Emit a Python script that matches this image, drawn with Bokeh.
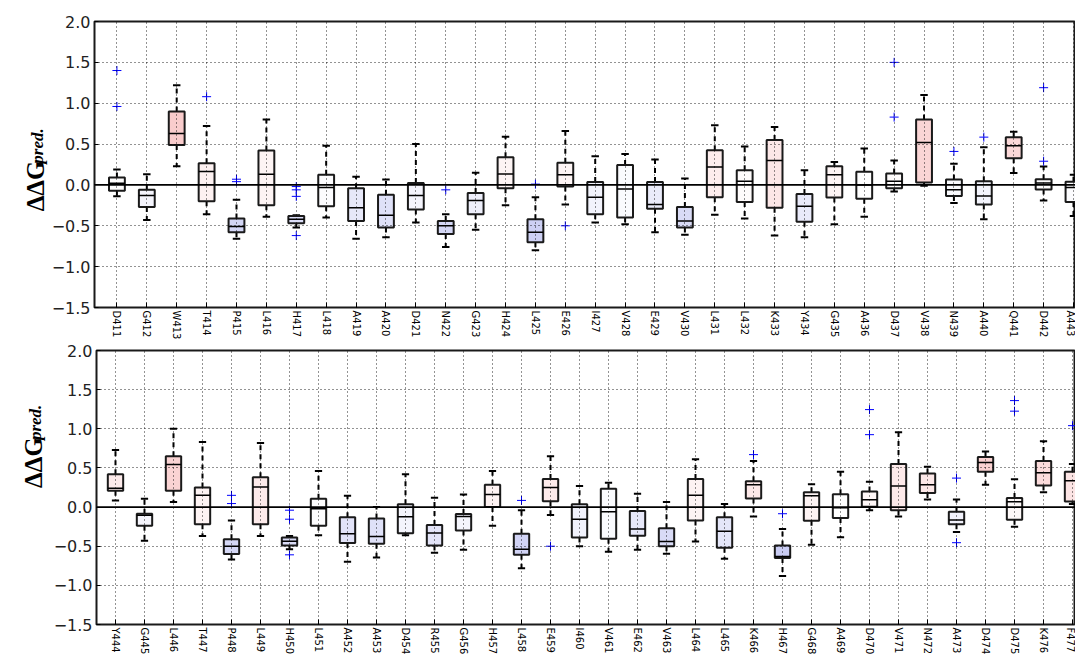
import math
from bokeh.plotting import figure
from bokeh.models import ColumnDataSource, FixedTicker, Span, Range1d
from bokeh.layouts import column, row
from bokeh.embed import file_html
from bokeh.resources import INLINE
from bokeh.core.properties import value

# ---------------- data: top panel ----------------
top_names = ["D411", "G412", "W413", "T414", "P415", "L416", "H417", "L418", "A419", "A420",
             "D421", "N422", "G423", "H424", "L425", "E426", "I427", "V428", "E429", "V430",
             "L431", "L432", "K433", "Y434", "G435", "A436", "D437", "V438", "N439", "A440",
             "Q441", "D442", "A443"]
top_lo = [-0.14, -0.43, 0.23, -0.36, -0.66, -0.39, -0.52, -0.40, -0.66, -0.64,
          -0.46, -0.76, -0.55, -0.25, -0.80, -0.24, -0.46, -0.48, -0.58, -0.61,
          -0.365, -0.41, -0.62, -0.64, -0.48, -0.39, -0.08, -0.01, -0.22, -0.42,
          0.145, -0.19, -0.38]
top_q1 = [-0.07, -0.27, 0.49, -0.20, -0.58, -0.25, -0.47, -0.26, -0.44, -0.52,
          -0.30, -0.60, -0.36, -0.04, -0.70, -0.02, -0.36, -0.40, -0.29, -0.52,
          -0.15, -0.21, -0.28, -0.45, -0.155, -0.17, -0.04, 0.03, -0.135, -0.24,
          0.325, -0.055, -0.21]
top_med = [0.02, -0.13, 0.63, 0.165, -0.51, 0.13, -0.42, -0.03, -0.28, -0.37,
           -0.13, -0.50, -0.19, 0.135, -0.58, 0.125, -0.15, -0.05, -0.24, -0.44,
           0.22, 0.045, 0.30, -0.26, 0.125, 0.0, 0.045, 0.52, -0.06, -0.135,
           0.48, 0.025, -0.03]
top_q3 = [0.09, -0.06, 0.90, 0.265, -0.41, 0.42, -0.38, 0.125, -0.04, -0.12,
          0.025, -0.44, -0.10, 0.34, -0.42, 0.27, 0.035, 0.245, 0.035, -0.27,
          0.425, 0.18, 0.55, -0.11, 0.23, 0.16, 0.14, 0.80, 0.065, 0.045,
          0.585, 0.07, 0.04]
top_hi = [0.19, 0.13, 1.22, 0.72, -0.18, 0.80, -0.37, 0.48, 0.10, 0.065,
          0.50, -0.36, 0.15, 0.59, -0.15, 0.66, 0.35, 0.38, 0.31, 0.08,
          0.73, 0.47, 0.71, 0.18, 0.28, 0.445, 0.30, 1.10, 0.26, 0.46,
          0.65, 0.225, 0.125]
top_outliers = [[1.40, 0.96], [], [], [1.08], [0.07, 0.04], [], [-0.02, -0.06, -0.14, -0.62], [], [], [],
                [], [-0.06], [], [], [0.01], [-0.50], [], [], [], [],
                [], [], [], [], [], [], [1.50, 0.83], [], [0.41], [0.585],
                [], [1.19, 0.29], []]

# ---------------- data: bottom panel ----------------
bot_names = ["Y444", "G445", "L446", "T447", "P448", "L449", "H450", "L451", "A452", "A453",
             "D454", "R455", "G456", "H457", "L458", "E459", "I460", "V461", "E462", "V463",
             "L464", "L465", "K466", "H467", "G468", "A469", "D470", "V471", "N472", "A473",
             "D474", "D475", "K476", "F477"]
bot_lo = [0.085, -0.43, 0.065, -0.37, -0.67, -0.37, -0.54, -0.36, -0.70, -0.645,
          -0.36, -0.585, -0.545, -0.24, -0.78, -0.10, -0.50, -0.57, -0.545, -0.595,
          -0.44, -0.66, -0.12, -0.88, -0.48, -0.385, -0.04, -0.12, 0.096, -0.32,
          0.285, -0.25, 0.19, 0.04]
bot_q1 = [0.21, -0.24, 0.21, -0.22, -0.60, -0.22, -0.49, -0.24, -0.46, -0.47,
          -0.335, -0.49, -0.30, 0.0, -0.61, 0.075, -0.39, -0.405, -0.365, -0.50,
          -0.17, -0.52, 0.11, -0.65, -0.175, -0.14, 0.005, -0.04, 0.18, -0.22,
          0.45, -0.163, 0.276, 0.07]
bot_med = [0.24, -0.105, 0.545, 0.15, -0.50, 0.255, -0.435, -0.02, -0.34, -0.375,
           -0.125, -0.33, -0.12, 0.16, -0.54, 0.25, -0.155, -0.06, -0.28, -0.44,
           0.15, -0.31, 0.285, -0.63, 0.145, -0.01, 0.095, 0.27, 0.285, -0.165,
           0.57, 0.067, 0.44, 0.335]
bot_q3 = [0.42, -0.085, 0.65, 0.25, -0.41, 0.38, -0.39, 0.105, -0.13, -0.145,
          0.035, -0.23, -0.09, 0.285, -0.34, 0.36, 0.035, 0.235, -0.05, -0.27,
          0.36, -0.13, 0.33, -0.49, 0.19, 0.165, 0.20, 0.55, 0.43, -0.06,
          0.64, 0.117, 0.59, 0.45]
bot_hi = [0.73, 0.105, 1.00, 0.83, -0.17, 0.82, -0.37, 0.46, 0.145, 0.0,
          0.42, 0.12, 0.16, 0.46, -0.04, 0.65, 0.27, 0.31, 0.17, 0.065,
          0.61, 0.04, 0.59, -0.28, 0.29, 0.45, 0.325, 0.955, 0.515, 0.096,
          0.71, 0.355, 0.84, 0.55]
bot_outliers = [[], [], [], [], [0.15, 0.045], [], [-0.04, -0.155, -0.61], [], [], [],
                [], [], [], [], [0.085], [-0.50], [], [], [], [],
                [], [], [0.67], [-0.085], [], [], [1.245, 0.925], [], [], [0.37, -0.455],
                [], [1.36, 1.225], [], [1.04]]

y_ticks = [-1.5, -1.0, -0.5, 0.0, 0.5, 1.0, 1.5, 2.0]
y_tick_labels = ["\u22121.5", "\u22121.0", "\u22120.5", "0.0", "0.5", "1.0", "1.5", "2.0"]
y_title = "\u0394\u0394G"
y_title_sub = "pred."

STRIP_W = 48


def fill_for(m):
    if m >= 0:
        t = min(m / 0.75, 1.0)
        r, g, b = 255 - 6 * t, 255 - 60 * t, 255 - 60 * t
    else:
        t = min(-m / 0.65, 1.0)
        r, g, b = 255 - 55 * t, 255 - 52 * t, 255 - 12 * t
    return "#%02x%02x%02x" % (int(r), int(g), int(b))


def make_title(height, main_pos, sub_pos):
    # narrow strip holding the rotated y-axis title, in pixel coordinates
    t = figure(width=STRIP_W, height=height, x_range=Range1d(0, STRIP_W),
               y_range=Range1d(height, 0), output_backend="svg", toolbar_location=None,
               x_axis_type=None, y_axis_type=None, min_border=0, min_border_left=0,
               min_border_right=0, min_border_top=0, min_border_bottom=0)
    t.outline_line_color = None
    t.xgrid.visible = False
    t.ygrid.visible = False
    t.text(x=[main_pos[0]], y=[main_pos[1]], text=[y_title], angle=math.pi / 2,
           text_align="left", text_baseline="alphabetic",
           text_font=value("Liberation Serif"), text_font_size="25px",
           text_font_style="bold", text_color="black")
    t.text(x=[sub_pos[0]], y=[sub_pos[1]], text=[y_title_sub], angle=math.pi / 2,
           text_align="left", text_baseline="alphabetic",
           text_font=value("Liberation Serif"), text_font_size="17px",
           text_font_style="bold italic", text_color="black")
    return t


def make_panel(names, lo, q1, med, q3, hi, outl, height, x_start, x_end,
               b_left, b_top, b_bottom):
    n = len(names)
    xs = list(range(n))
    hw, cw = 0.265, 0.125
    p = figure(width=1075 - STRIP_W, height=height, x_range=Range1d(x_start, x_end),
               y_range=Range1d(-1.5, 2.0), output_backend="svg", toolbar_location=None,
               min_border_left=b_left, min_border_right=0, min_border_top=b_top,
               min_border_bottom=b_bottom, background_fill_color="white",
               border_fill_color="white")
    p.outline_line_color = "#1a1a1a"
    p.outline_line_width = 2

    # grid (dotted, drawn above boxes as in the original)
    for g in (p.xgrid, p.ygrid):
        g.grid_line_color = "black"
        g.grid_line_dash = "1 3"
        g.grid_line_width = 1
        g.grid_line_alpha = 0.85
        g.level = "annotation"
    p.xgrid.ticker = FixedTicker(ticks=xs)
    p.ygrid.ticker = FixedTicker(ticks=y_ticks)

    # y axis
    p.yaxis.ticker = FixedTicker(ticks=y_ticks)
    p.yaxis.major_label_overrides = {t: s for t, s in zip(y_ticks, y_tick_labels)}
    p.yaxis.major_label_text_font = "DejaVu Sans"
    p.yaxis.major_label_text_font_size = "16px"
    p.yaxis.major_label_text_color = "#222222"
    p.yaxis.major_label_standoff = 4
    p.yaxis.axis_line_color = None
    p.yaxis.major_tick_in = 4
    p.yaxis.major_tick_out = 0
    p.yaxis.minor_tick_line_color = None

    # x axis with category names, vertical
    p.xaxis.ticker = FixedTicker(ticks=xs)
    p.xaxis.major_label_overrides = {i: s for i, s in enumerate(names)}
    p.xaxis.major_label_orientation = "vertical"
    p.xaxis.major_label_text_font = "DejaVu Sans"
    p.xaxis.major_label_text_font_size = "10px"
    p.xaxis.major_label_text_color = "black"
    p.xaxis.major_label_standoff = 3
    p.xaxis.axis_line_color = None
    p.xaxis.major_tick_in = 5
    p.xaxis.major_tick_out = 0
    p.xaxis.minor_tick_line_color = None

    src = ColumnDataSource(dict(
        x=xs, left=[x - hw for x in xs], right=[x + hw for x in xs],
        cl=[x - cw for x in xs], cr=[x + cw for x in xs],
        lo=lo, q1=q1, med=med, q3=q3, hi=hi, fill=[fill_for(m) for m in med]))

    p.segment(x0="x", y0="q3", x1="x", y1="hi", source=src, line_color="black",
              line_width=2, line_dash="5 4")
    p.segment(x0="x", y0="q1", x1="x", y1="lo", source=src, line_color="black",
              line_width=2, line_dash="5 4")
    p.segment(x0="cl", y0="hi", x1="cr", y1="hi", source=src, line_color="black", line_width=2)
    p.segment(x0="cl", y0="lo", x1="cr", y1="lo", source=src, line_color="black", line_width=2)
    p.quad(left="left", right="right", bottom="q1", top="q3", source=src,
           fill_color="fill", line_color="#1a1a1a", line_width=2)
    p.segment(x0="left", y0="med", x1="right", y1="med", source=src,
              line_color="black", line_width=1.5)

    ox, oy = [], []
    for i, vals in enumerate(outl):
        for v in vals:
            ox.append(i)
            oy.append(v)
    p.scatter(ox, oy, marker="cross", size=9, line_color="blue", line_width=1)

    p.add_layout(Span(location=0, dimension="width", line_color="black", line_width=1.8))
    return p


p1 = make_panel(top_names, top_lo, top_q1, top_med, top_q3, top_hi, top_outliers,
                height=342, x_start=-0.75, x_end=32.067, b_left=92 - STRIP_W, b_top=21,
                b_bottom=31)
p2 = make_panel(bot_names, bot_lo, bot_q1, bot_med, bot_q3, bot_hi, bot_outliers,
                height=315, x_start=-0.655, x_end=33.103, b_left=96 - STRIP_W, b_top=8,
                b_bottom=27)
t1 = make_title(342, (35, 227), (37, 170))
t2 = make_title(315, (33, 158), (35, 103))

layout = column(row(t1, p1, spacing=0), row(t2, p2, spacing=0), spacing=0)
open("out.html", "w").write(file_html(layout, INLINE))
